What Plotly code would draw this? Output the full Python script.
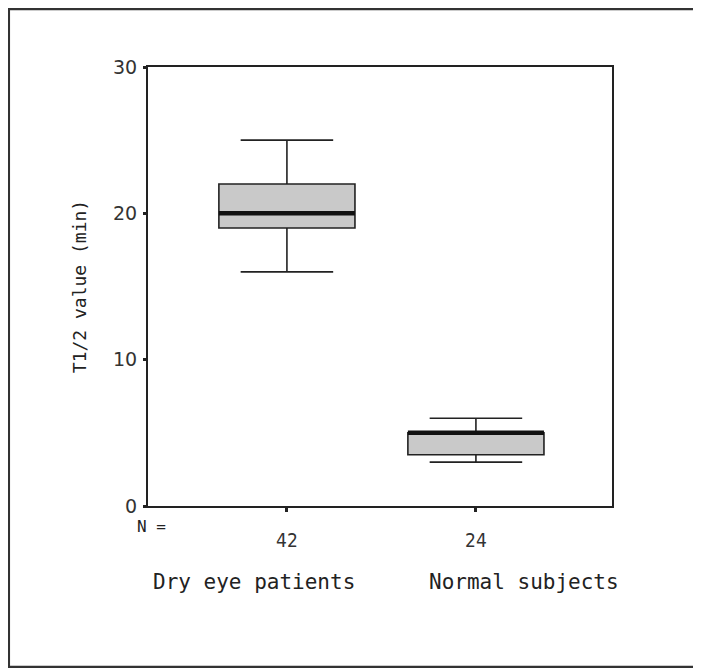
import plotly.graph_objects as go

groups = ["Dry eye patients", "Normal subjects"]
n_labels = ["42", "24"]
positions = [0, 1]
q1 = [19, 3.5]
median = [20, 5]
q3 = [22, 5]
lower = [16, 3]
upper = [25, 6]

BOX_W = 0.72
fig = go.Figure()
for i, g in enumerate(groups):
    fig.add_trace(go.Box(
        x=[positions[i]], q1=[q1[i]], median=[median[i]], q3=[q3[i]],
        lowerfence=[lower[i]], upperfence=[upper[i]],
        width=BOX_W, whiskerwidth=0.68,
        fillcolor="#c9c9c9", line=dict(color="#222222", width=1.6),
        name=g, showlegend=False, hoverinfo="skip"))
    fig.add_trace(go.Scatter(
        x=[positions[i] - BOX_W / 2, positions[i] + BOX_W / 2],
        y=[median[i], median[i]], mode="lines",
        line=dict(color="#111111", width=4.5), showlegend=False, hoverinfo="skip"))

mono = "DejaVu Sans Mono"
label_x = [0.228, 0.81]
for i, g in enumerate(groups):
    fig.add_annotation(x=label_x[i], xref="paper", y=-0.173, yref="paper",
                       text=g, showarrow=False, xanchor="center", yanchor="middle",
                       font=dict(family=mono, size=21, color="#222"))
fig.add_annotation(x=0.043, xref="paper", y=-0.046, yref="paper", text="N =",
                   showarrow=False, xanchor="right", yanchor="middle",
                   font=dict(family=mono, size=16, color="#222"))

fig.add_shape(type="rect", xref="paper", yref="paper",
              x0=-0.3, x1=1.2, y0=-0.3667, y1=1.132,
              line=dict(color="#333", width=2.5), layer="below")

fig.update_xaxes(range=[-0.735, 1.72], tickvals=positions, ticktext=n_labels,
                 showline=True, linecolor="#222", linewidth=2, mirror=True,
                 ticks="outside", ticklen=4, tickwidth=3, tickcolor="#222",
                 showgrid=False, zeroline=False,
                 tickfont=dict(family="DejaVu Sans Condensed, DejaVu Sans", size=19, color="#333"),
                 ticklabelstandoff=12)
fig.update_yaxes(range=[0, 30], tickvals=[0, 10, 20, 30],
                 showline=True, linecolor="#222", linewidth=2, mirror=True,
                 ticks="outside", ticklen=3, tickwidth=3, tickcolor="#222",
                 showgrid=False, zeroline=False,
                 tickfont=dict(family="DejaVu Sans", size=19, color="#333"),
                 ticklabelstandoff=2,
                 title=dict(text="T1/2 value (min)", standoff=22,
                            font=dict(family=mono, size=18, color="#222")))
fig.update_layout(width=693, height=660, plot_bgcolor="white", paper_bgcolor="white",
                  margin=dict(l=140, r=89, t=59, b=162))
fig.write_html("out.html")
